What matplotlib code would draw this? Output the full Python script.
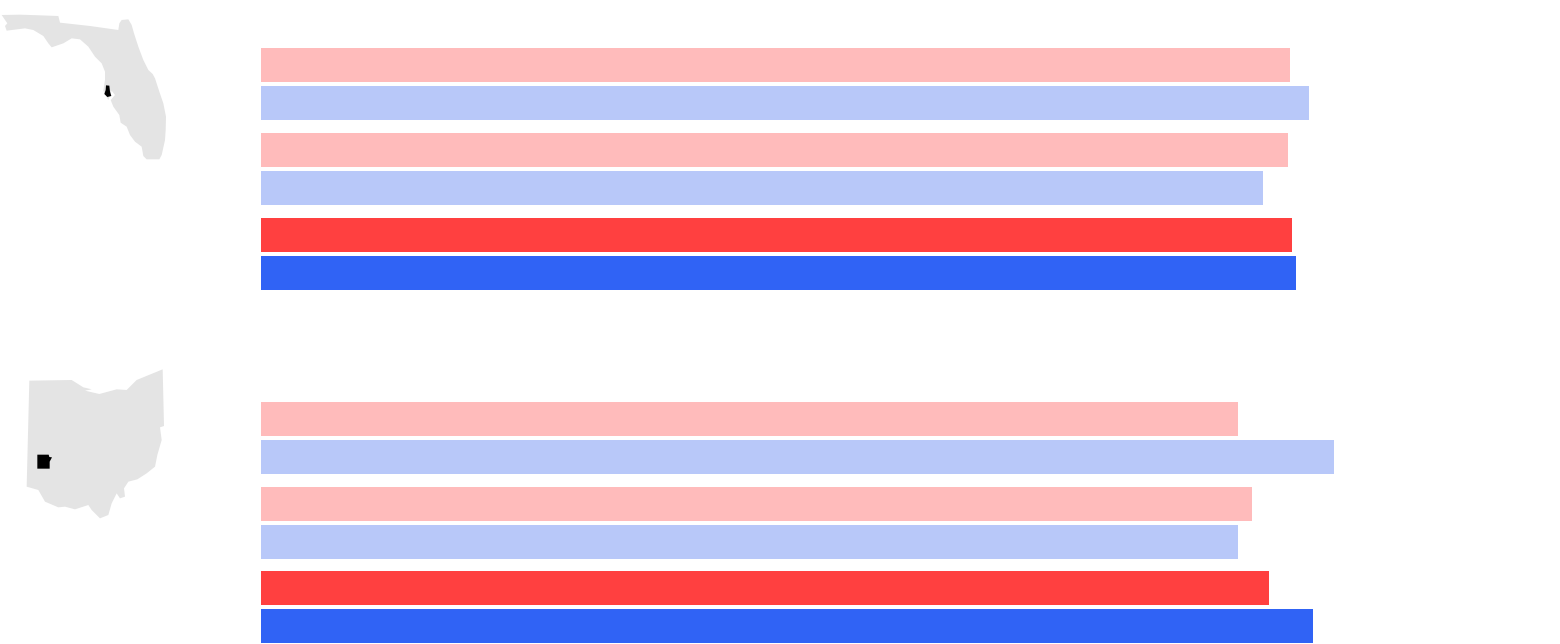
import numpy as np
import matplotlib
matplotlib.use("Agg")
import matplotlib.pyplot as plt
from matplotlib.patches import Polygon

# bar lengths, top to bottom
florida_values = [1029, 1048, 1027, 1002, 1031, 1035]
ohio_values = [977, 1073, 991, 977, 1008, 1052]
bar_colors = ["#FFBBBB", "#B8C8F9", "#FFBBBB", "#B8C8F9", "#FF4040", "#3063F5"]

florida_shape = [(5, 45), (60, 44), (120, 46), (175, 48), (180, 68), (270, 78), (355, 90), (358, 70),
                 (365, 60), (385, 58), (395, 75), (402, 100), (415, 140), (430, 180), (445, 210),
                 (458, 222), (465, 235), (478, 275), (490, 310), (498, 350), (497, 390), (495, 420),
                 (485, 465), (478, 478), (440, 478), (430, 468), (425, 440), (405, 425), (390, 405),
                 (380, 380), (362, 368), (358, 345), (340, 320), (332, 300), (345, 285), (335, 272),
                 (325, 300), (310, 272), (315, 240), (315, 215), (305, 190), (285, 170), (265, 140),
                 (240, 118), (215, 115), (190, 130), (155, 142), (145, 130), (130, 108), (100, 90),
                 (75, 85), (20, 92), (15, 78), (22, 70)]
florida_county = [(318, 256), (328, 257), (330, 275), (334, 288), (322, 291), (313, 282), (317, 270)]
ohio_shape = [(88, 92), (215, 90), (250, 112), (275, 118), (255, 122), (298, 132), (350, 118), (380, 120),
              (410, 90), (488, 58), (492, 228), (480, 232), (485, 270), (472, 315), (465, 350), (440, 370),
              (412, 388), (385, 395), (372, 415), (375, 440), (360, 445), (350, 430), (335, 460), (325, 495),
              (300, 505), (275, 480), (265, 465), (225, 478), (195, 470), (175, 472), (135, 455), (115, 420),
              (80, 410)]
ohio_county = [(112, 314), (146, 314), (148, 321), (156, 322), (149, 335), (149, 356), (112, 356)]

fig = plt.figure(figsize=(15.6, 6.44), dpi=100)
ax = fig.add_axes([0, 0, 1, 1])
ax.set_xlim(0, 1560)
ax.set_ylim(644, 0)
ax.axis("off")


def draw_bars(values, top, pitch):
    # pairs of bars, each pair one pitch below the last
    for i, value in enumerate(values):
        y = top + (i // 2) * pitch + (i % 2) * 38
        ax.barh(y, value, height=34, left=261, color=bar_colors[i], align="edge", linewidth=0)


def draw_map(shape, county, top):
    shape = np.array(shape) / 3 + [0, top]
    county = np.array(county) / 3 + [0, top]
    ax.add_patch(Polygon(shape, closed=True, facecolor="#E4E4E4", edgecolor="none"))
    ax.add_patch(Polygon(county, closed=True, facecolor="black", edgecolor="none"))


draw_bars(florida_values, 48, 85)
draw_bars(ohio_values, 402, 84.5)
draw_map(florida_shape, florida_county, 0)
draw_map(ohio_shape, ohio_county, 350)

plt.savefig("out.png", dpi=100)
plt.close()
